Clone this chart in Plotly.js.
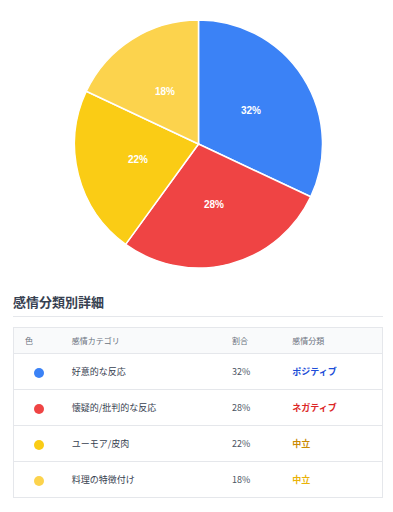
<!DOCTYPE html>
<html><head><meta charset="utf-8">
<script src="https://cdn.plot.ly/plotly-3.0.1.min.js"></script>
<style>
body{margin:0;background:#fff;font-family:"Noto Sans CJK JP","Noto Sans",sans-serif;}
#chart{width:393px;height:285px;}
#sec{position:absolute;left:13px;top:290px;width:370px;}
h2{margin:0;font-size:13px;font-weight:700;color:#374151;height:26px;line-height:24px;border-bottom:1px solid #e5e7eb;}
table{margin-top:10px;width:370px;table-layout:fixed;border-collapse:collapse;border:1px solid #e5e7eb;font-size:9px;color:#374151;}
th{font-weight:400;color:#6b7280;font-size:8px;text-align:left;height:25px;background:#f9fafb;border-bottom:1px solid #e5e7eb;padding:0;}
td{height:35px;border-bottom:1px solid #e5e7eb;padding:0;}
.dot{display:inline-block;width:10px;height:10px;border-radius:50%;margin-left:20px;vertical-align:middle;}
</style></head><body>
<div id="chart"></div>
<div id="sec"><h2>感情分類別詳細</h2><table id="tbl"></table></div>
<script>
const categories=["好意的な反応","懐疑的/批判的な反応","ユーモア/皮肉","料理の特徴付け"];
const values=[32,28,22,18];
const sentiments=["ポジティブ","ネガティブ","中立","中立"];
const headers=["色","感情カテゴリ","割合","感情分類"];
const sliceColors=["#3B82F6","#EF4444","#FACC15","#FCD34D"];
const sentColors=["#1D4ED8","#DC2626","#CA8A04","#EAB308"];

const W=393,H=285,M={l:4,r:0,t:20,b:17};
const pw=W-M.l-M.r, ph=H-M.t-M.b, R=Math.min(pw,ph)/2;
const total=values.reduce((a,b)=>a+b,0);
let cum=0;
const annotations=values.map(v=>{
  const mid=(cum+v/2)/total*2*Math.PI; cum+=v;
  return {xref:"paper",yref:"paper",xanchor:"center",yanchor:"middle",
    x:0.5+0.5*R*Math.sin(mid)/pw,y:0.5+0.5*R*Math.cos(mid)/ph,
    text:v+"%",showarrow:false,font:{color:"#ffffff",size:10,family:"Liberation Sans",weight:700}};
});

Plotly.newPlot("chart",[{
  type:"pie",labels:categories,values:values,sort:false,direction:"clockwise",rotation:0,
  marker:{colors:sliceColors,line:{color:"#ffffff",width:1.5}},
  textinfo:"none",hoverinfo:"label+percent"
}],{
  width:W,height:H,margin:M,showlegend:false,annotations:annotations,
  paper_bgcolor:"#fff",font:{family:"Noto Sans CJK JP"}
},{displayModeBar:false,staticPlot:true});

const tbl=document.getElementById("tbl");
const widths=[58,160,60,90];
let h="<colgroup>"+widths.map(w=>`<col style="width:${w}px">`).join("")+"</colgroup>";
h+="<tr>"+headers.map((t,i)=>`<th style="text-indent:${i==0?11:0}px">${t}</th>`).join("")+"</tr>";
categories.forEach((c,i)=>{
  h+=`<tr><td><span class="dot" style="background:${sliceColors[i]}"></span></td><td>${c}</td><td style="color:#4b5563">${values[i]}%</td><td style="color:${sentColors[i]};font-weight:700">${sentiments[i]}</td></tr>`;
});
tbl.innerHTML=h;
</script>
</body></html>
